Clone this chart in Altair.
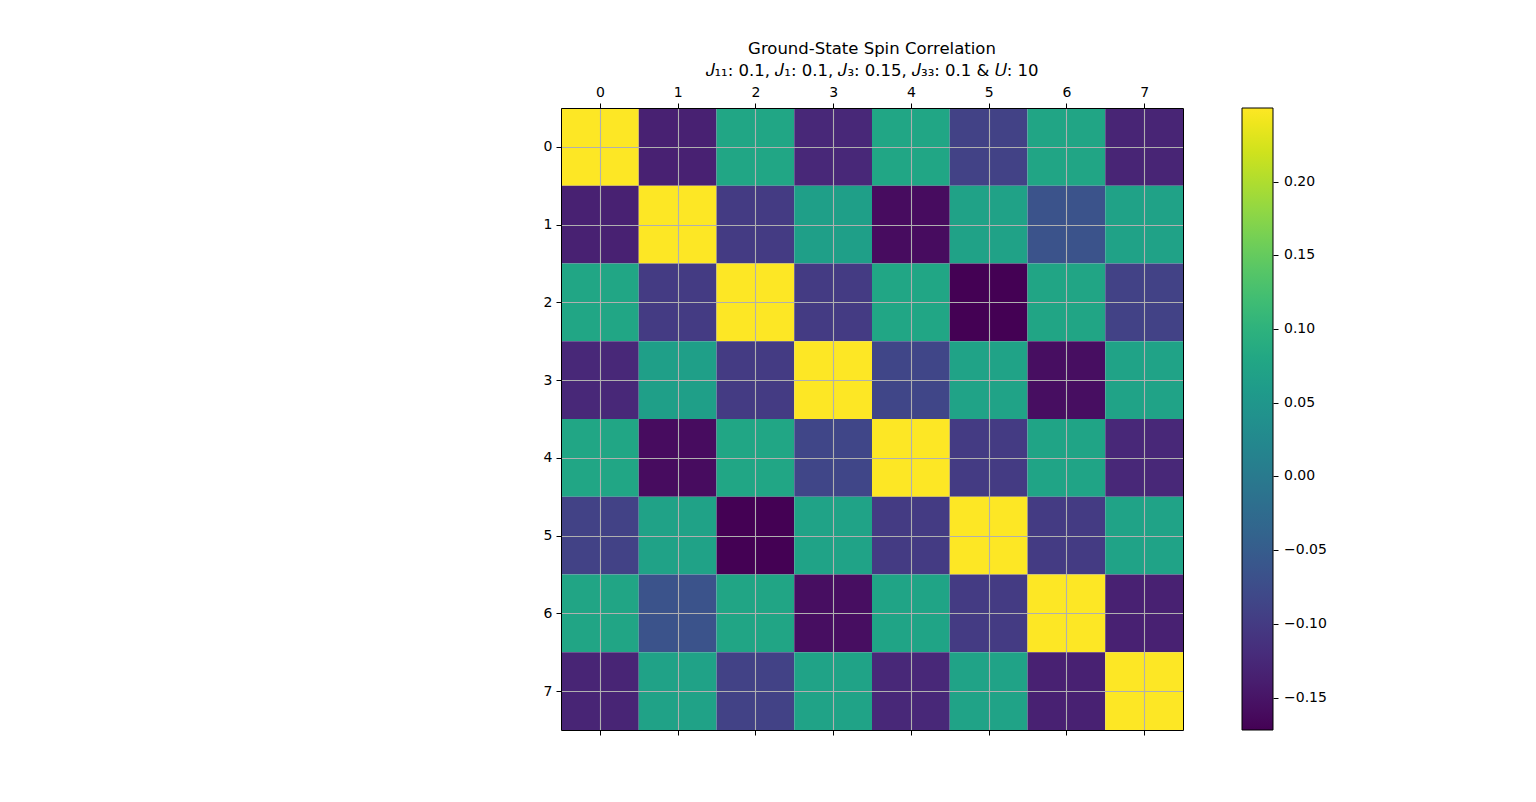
import altair as alt
import pandas as pd

# Ground-state spin correlation matrix (row i, column j)
row_labels = [0, 1, 2, 3, 4, 5, 6, 7]
col_labels = [0, 1, 2, 3, 4, 5, 6, 7]
r0 = [0.25, -0.135, 0.078, -0.125, 0.078, -0.090, 0.076, -0.130]
r1 = [-0.135, 0.25, -0.100, 0.066, -0.160, 0.070, -0.065, 0.070]
r2 = [0.078, -0.100, 0.25, -0.100, 0.078, -0.172, 0.076, -0.090]
r3 = [-0.125, 0.066, -0.100, 0.25, -0.085, 0.072, -0.158, 0.072]
r4 = [0.078, -0.160, 0.078, -0.085, 0.25, -0.100, 0.074, -0.125]
r5 = [-0.090, 0.070, -0.172, 0.072, -0.100, 0.25, -0.100, 0.072]
r6 = [0.076, -0.065, 0.076, -0.158, 0.074, -0.100, 0.25, -0.135]
r7 = [-0.130, 0.070, -0.090, 0.072, -0.125, 0.072, -0.135, 0.25]
matrix = [r0, r1, r2, r3, r4, r5, r6, r7]
cbar_ticks = [-0.15, -0.10, -0.05, 0.00, 0.05, 0.10, 0.15, 0.20]

records = []
for i, row in zip(row_labels, matrix):
    for j, v in zip(col_labels, row):
        records.append({"row": i, "col": j, "value": v})
df = pd.DataFrame(records)
vmin = min(min(r) for r in matrix)
vmax = max(max(r) for r in matrix)

FONT = "DejaVu Sans"
xscale = alt.Scale(domain=[-0.5, 7.5], nice=False, zero=False)
yscale = alt.Scale(domain=[-0.5, 7.5], nice=False, zero=False, reverse=True)

base = alt.Chart(df).transform_calculate(
    x0="datum.col - 0.5", x1="datum.col + 0.5",
    y0="datum.row - 0.5", y1="datum.row + 0.5",
)

common_axis = dict(
    title=None, values=col_labels, format="d", labelFont=FONT, labelFontSize=14,
    labelColor="black", tickColor="black", tickSize=5, tickWidth=1,
    domainColor="black", domainWidth=1, labelPadding=4,
)

heat = base.mark_rect(strokeWidth=0).encode(
    x=alt.X("x0:Q", scale=xscale, axis=alt.Axis(orient="top", grid=True, gridColor="#b0b0b0",
                                                gridWidth=1.1, zindex=1, **common_axis)),
    x2="x1:Q",
    y=alt.Y("y0:Q", scale=yscale, axis=alt.Axis(orient="left", grid=True, gridColor="#b0b0b0",
                                                gridWidth=1.1, zindex=1, **common_axis)),
    y2="y1:Q",
    color=alt.Color(
        "value:Q",
        scale=alt.Scale(scheme="viridis", domain=[vmin, vmax], nice=False, zero=False),
        legend=alt.Legend(
            title=None, orient="none", legendX=681, legendY=0, direction="vertical",
            gradientLength=622, gradientThickness=31,
            gradientStrokeColor="black", gradientStrokeWidth=1,
            values=cbar_ticks, format=".2f", labelFont=FONT, labelFontSize=14,
            labelColor="black", labelOffset=11, labelOverlap=False,
        ),
    ),
)

frame = base.mark_rect(fillOpacity=0, strokeWidth=0).encode(
    x=alt.X("x0:Q", scale=xscale, axis=alt.Axis(orient="bottom", grid=False, labels=False,
                                                zindex=1, **common_axis)),
    x2="x1:Q",
    y=alt.Y("y0:Q", scale=yscale, axis=alt.Axis(orient="right", grid=False, labels=False, ticks=False,
                                                zindex=1, title=None, domainColor="black", domainWidth=1)),
    y2="y1:Q",
)

# colorbar tick marks: an axis on the colour values placed at the colorbar's right edge
cbar_axis = base.mark_point(opacity=0).encode(
    y=alt.Y("value:Q", scale=alt.Scale(domain=[vmin, vmax], nice=False, zero=False),
            axis=alt.Axis(orient="right", offset=90, values=cbar_ticks, labels=False, grid=False,
                          domain=False, ticks=True, tickColor="black", tickSize=5, tickWidth=1,
                          title=None)),
)

chart = alt.layer(heat, frame, cbar_axis).resolve_scale(y="independent").resolve_axis(
    x="independent", y="independent"
).properties(
    width=622, height=622,
    title=alt.TitleParams(
        text=["Ground-State Spin Correlation",
              "𝐽₁₁: 0.1, 𝐽₁: 0.1, 𝐽₃: 0.15, 𝐽₃₃: 0.1 & 𝑈: 10"],
        anchor="middle", font=FONT, fontSize=16.5, fontWeight="normal", color="black",
        lineHeight=22, offset=6,
    ),
    autosize=alt.AutoSizeParams(type="none"),
    padding={"left": 553, "top": 100, "right": 345, "bottom": 64},
).configure_view(stroke=None)

chart.save("out.html", embed_options={"renderer": "svg", "actions": False})
